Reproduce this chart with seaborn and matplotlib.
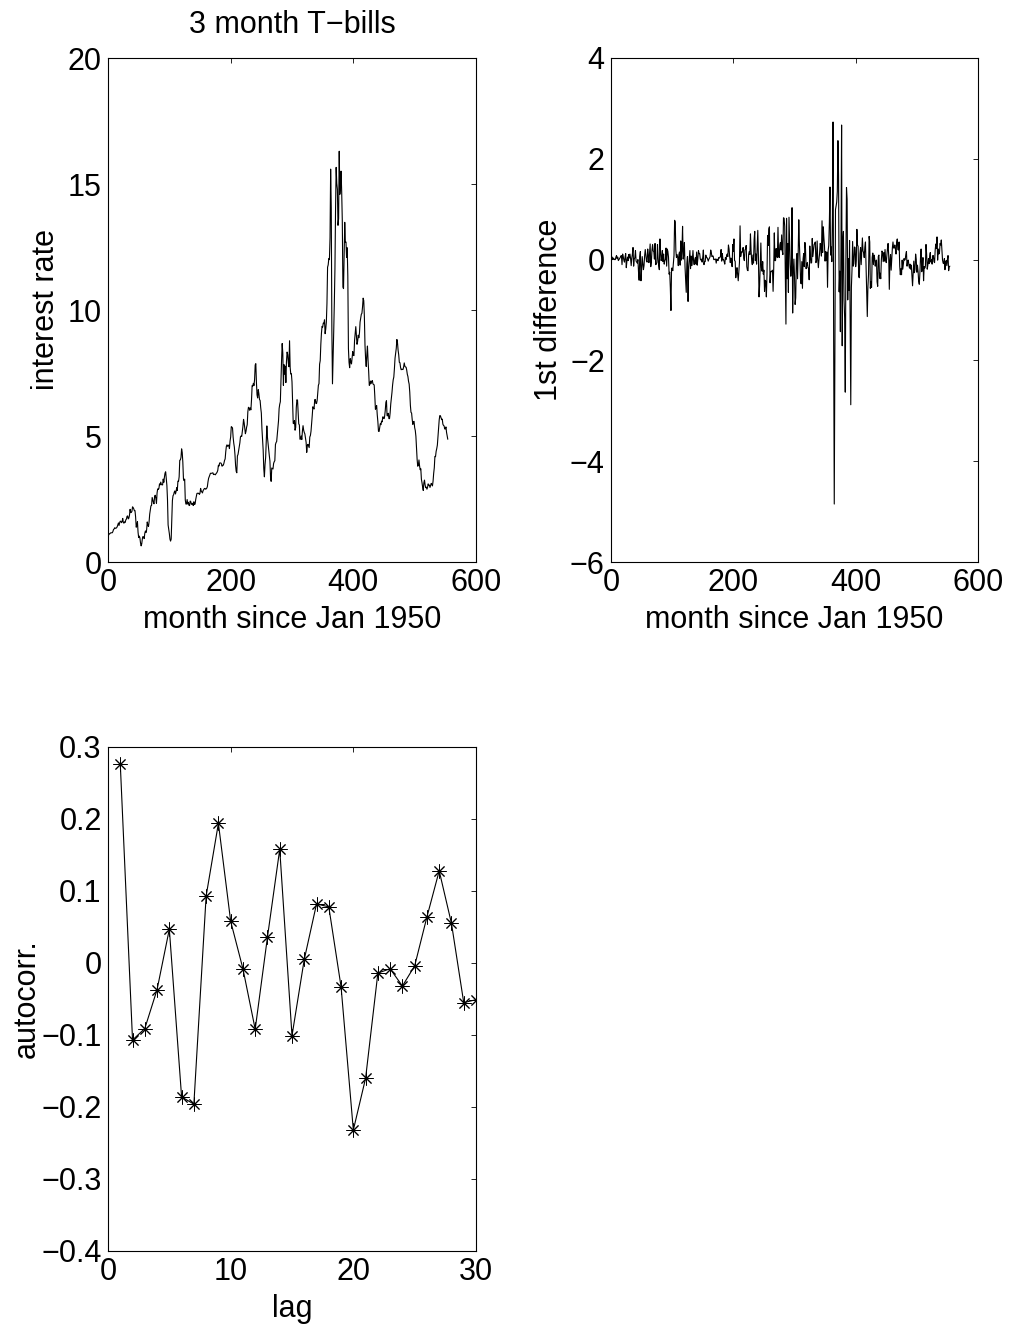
import numpy as np
import pandas as pd
import matplotlib
matplotlib.use("Agg")
import matplotlib.pyplot as plt
import seaborn as sns

# Monthly 3-month T-bill rate (%), Jan 1950 onwards, one row per year
tbill_rate = [
    1.07, 1.12, 1.12, 1.15, 1.16, 1.16, 1.16, 1.21, 1.29, 1.31, 1.36, 1.34,   # 1950
    1.34, 1.36, 1.40, 1.47, 1.55, 1.45, 1.56, 1.62, 1.61, 1.56, 1.61, 1.73,   # 1951
    1.57, 1.54, 1.59, 1.57, 1.67, 1.70, 1.81, 1.83, 1.71, 1.74, 1.85, 2.09,   # 1952
    1.96, 1.97, 2.01, 2.19, 2.16, 2.11, 2.04, 2.04, 1.79, 1.38, 1.44, 1.60,   # 1953
    1.18, 0.97, 1.03, 0.96, 0.76, 0.64, 0.72, 0.92, 1.01, 0.98, 0.93, 1.14,   # 1954
    1.23, 1.17, 1.28, 1.59, 1.45, 1.41, 1.60, 1.90, 2.07, 2.23, 2.24, 2.56,   # 1955
    2.46, 2.37, 2.31, 2.61, 2.65, 2.53, 2.33, 2.74, 2.90, 2.88, 2.92, 3.10,   # 1956
    3.06, 3.17, 3.08, 3.06, 3.06, 3.29, 3.16, 3.37, 3.53, 3.58, 3.29, 3.04,   # 1957
    2.48, 1.47, 1.30, 1.13, 0.91, 0.83, 0.91, 1.69, 2.44, 2.63, 2.67, 2.77,   # 1958
    2.82, 2.70, 2.80, 2.95, 2.84, 3.21, 3.20, 3.38, 4.04, 4.05, 4.15, 4.49,   # 1959
    4.35, 3.96, 3.31, 3.23, 3.29, 2.46, 2.30, 2.30, 2.48, 2.30, 2.37, 2.25,   # 1960
    2.24, 2.42, 2.39, 2.29, 2.29, 2.33, 2.24, 2.39, 2.28, 2.30, 2.48, 2.60,   # 1961
    2.72, 2.73, 2.72, 2.73, 2.68, 2.73, 2.92, 2.82, 2.78, 2.74, 2.83, 2.87,   # 1962
    2.91, 2.92, 2.89, 2.90, 2.93, 2.99, 3.18, 3.32, 3.38, 3.45, 3.52, 3.52,   # 1963
    3.52, 3.53, 3.54, 3.47, 3.48, 3.48, 3.46, 3.50, 3.53, 3.57, 3.64, 3.84,   # 1964
    3.81, 3.93, 3.93, 3.93, 3.89, 3.80, 3.84, 3.84, 3.92, 4.03, 4.09, 4.38,   # 1965
    4.59, 4.65, 4.59, 4.62, 4.64, 4.50, 4.80, 4.96, 5.37, 5.35, 5.32, 4.96,   # 1966
    4.72, 4.56, 4.26, 3.84, 3.60, 3.54, 4.21, 4.27, 4.42, 4.56, 4.73, 4.97,   # 1967
    5.00, 4.98, 5.17, 5.38, 5.66, 5.52, 5.31, 5.09, 5.19, 5.35, 5.45, 5.96,   # 1968
    6.14, 6.12, 6.02, 6.11, 6.04, 6.44, 7.00, 6.98, 7.09, 7.00, 7.24, 7.82,   # 1969
    7.87, 7.13, 6.63, 6.51, 6.84, 6.68, 6.45, 6.41, 6.12, 5.91, 5.28, 4.87,   # 1970
    4.44, 3.70, 3.38, 3.86, 4.14, 4.75, 5.40, 4.94, 4.69, 4.46, 4.22, 4.01,   # 1971
    3.38, 3.20, 3.73, 3.71, 3.69, 3.91, 3.98, 4.02, 4.66, 4.74, 4.78, 5.07,   # 1972
    5.41, 5.60, 6.09, 6.26, 6.36, 7.19, 8.01, 8.67, 8.29, 7.01, 7.83, 7.45,   # 1973
    7.77, 7.12, 7.96, 8.33, 8.23, 7.90, 7.75, 8.78, 7.72, 7.46, 7.47, 7.15,   # 1974
    6.26, 5.50, 5.49, 5.61, 5.23, 5.34, 6.13, 6.44, 6.42, 5.96, 5.48, 5.44,   # 1975
    4.87, 4.88, 5.00, 4.86, 5.20, 5.41, 5.23, 5.14, 5.08, 4.92, 4.75, 4.35,   # 1976
    4.62, 4.67, 4.60, 4.54, 4.96, 5.02, 5.19, 5.49, 5.81, 6.16, 6.10, 6.07,   # 1977
    6.44, 6.45, 6.29, 6.29, 6.41, 6.73, 7.01, 7.08, 7.85, 7.99, 8.64, 9.08,   # 1978
    9.35, 9.32, 9.48, 9.46, 9.61, 9.06, 9.24, 9.52, 10.26, 11.70, 11.79, 12.04,  # 1979
    12.00, 12.86, 15.59, 14.05, 9.20, 7.07, 8.06, 9.13, 10.27, 11.62, 13.98, 15.66,  # 1980
    15.02, 14.79, 13.36, 13.63, 16.30, 14.59, 14.95, 15.51, 14.70, 13.54, 10.91, 10.85,  # 1981
    12.28, 13.48, 12.68, 12.70, 12.09, 12.47, 11.35, 8.47, 7.92, 7.71, 8.07, 7.94,  # 1982
    7.86, 8.11, 8.35, 8.21, 8.19, 8.79, 9.08, 9.34, 9.00, 8.64, 8.76, 9.00,   # 1983
    8.90, 9.09, 9.52, 9.69, 9.83, 9.87, 10.12, 10.47, 10.37, 9.74, 8.61, 8.06,  # 1984
    7.76, 8.22, 8.57, 8.00, 7.56, 7.01, 7.05, 7.18, 7.08, 7.17, 7.20, 7.07,   # 1985
    7.04, 7.03, 6.59, 6.06, 6.12, 6.21, 5.84, 5.57, 5.19, 5.18, 5.35, 5.49,   # 1986
    5.45, 5.59, 5.56, 5.76, 5.75, 5.69, 5.78, 6.00, 6.32, 6.40, 5.81, 5.80,   # 1987
    5.90, 5.69, 5.69, 5.92, 6.27, 6.50, 6.73, 7.02, 7.23, 7.34, 7.68, 8.09,   # 1988
    8.29, 8.48, 8.83, 8.70, 8.40, 8.22, 7.92, 7.91, 7.72, 7.63, 7.65, 7.64,   # 1989
    7.64, 7.74, 7.90, 7.77, 7.74, 7.73, 7.62, 7.45, 7.36, 7.17, 7.06, 6.74,   # 1990
    6.22, 5.94, 5.91, 5.65, 5.46, 5.57, 5.58, 5.33, 5.22, 4.99, 4.56, 4.07,   # 1991
    3.80, 3.84, 4.05, 3.81, 3.66, 3.70, 3.28, 3.14, 2.97, 2.84, 3.14, 3.25,   # 1992
    3.06, 2.95, 2.97, 2.89, 2.96, 3.10, 3.05, 3.05, 2.96, 3.04, 3.12, 3.08,   # 1993
    3.02, 3.21, 3.52, 3.74, 4.19, 4.18, 4.39, 4.50, 4.64, 4.96, 5.25, 5.64,   # 1994
    5.81, 5.80, 5.73, 5.65, 5.67, 5.47, 5.42, 5.40, 5.28, 5.28, 5.36, 5.14,   # 1995
    5.00, 4.87,                                                               # 1996
]

# Sample autocorrelation of the first differences, lags 1..30
acf_lags = list(range(1, 31))
acf_values = [
    0.277, -0.107, -0.091, -0.037, 0.047, -0.186, -0.196, 0.093, 0.194, 0.058,
    -0.008, -0.092, 0.036, 0.158, -0.101, 0.005, 0.082, 0.078, -0.033, -0.232,
    -0.160, -0.014, -0.008, -0.032, -0.004, 0.064, 0.128, 0.055, -0.055, -0.051,
]

# Axis ticks and labels
rate_xticks = [0, 200, 400, 600]
rate_yticks = [0, 5, 10, 15, 20]
diff_yticks = [-6, -4, -2, 0, 2, 4]
acf_xticks = [0, 10, 20, 30]
acf_yticks = [-0.4, -0.3, -0.2, -0.1, 0.0, 0.1, 0.2, 0.3]
acf_yticklabels = ["\u22120.4", "\u22120.3", "\u22120.2", "\u22120.1", "0", "0.1", "0.2", "0.3"]

rate = np.asarray(tbill_rate)
months = np.arange(1, len(rate) + 1)
rate_df = pd.DataFrame({"month": months, "rate": rate})
diff_df = pd.DataFrame({"month": months[1:], "diff": np.diff(rate)})
acf_df = pd.DataFrame({"lag": acf_lags, "acf": acf_values})

sns.set_theme(style="white", rc={
    "axes.edgecolor": "black",
    "axes.linewidth": 0.8,
    "xtick.direction": "in",
    "ytick.direction": "in",
    "axes.unicode_minus": True,
})
plt.rcParams["font.family"] = ["Liberation Sans", "DejaVu Sans"]

FS = 22
W, H = 1010, 1330
fig = plt.figure(figsize=(W / 100, H / 100), dpi=100)


def frac_axes(left, top, right, bottom):
    return fig.add_axes([left / W, 1 - bottom / H, (right - left) / W, (bottom - top) / H])


ax1 = frac_axes(108, 58, 476, 562)
ax2 = frac_axes(611, 58, 978, 562)
ax3 = frac_axes(108, 747, 476, 1251)

line_kw = dict(color="black", linewidth=0.8, errorbar=None, legend=False)
sns.lineplot(data=rate_df, x="month", y="rate", ax=ax1, **line_kw)
sns.lineplot(data=diff_df, x="month", y="diff", ax=ax2, **line_kw)
sns.lineplot(data=acf_df, x="lag", y="acf", ax=ax3, marker=(8, 2, 0), markersize=10,
             markeredgecolor="black", markeredgewidth=0.7, markerfacecolor="none", **line_kw)


def style_axes(ax, xlim, ylim, xticks, yticks, xlabel, ylabel, ylabel_x, yticklabels=None):
    ax.set_xlim(*xlim)
    ax.set_ylim(*ylim)
    ax.set_xticks(xticks)
    ax.set_xticklabels([str(t) for t in xticks])
    ax.set_yticks(yticks)
    if yticklabels is None:
        yticklabels = [str(t).replace("-", "\u2212") for t in yticks]
    ax.set_yticklabels(yticklabels)
    ax.tick_params(which="both", direction="in", top=True, right=True, length=3.5,
                   width=0.6, colors="black", labelsize=FS)
    ax.tick_params(axis="x", pad=4)
    ax.tick_params(axis="y", pad=4.5)
    ax.set_xlabel(xlabel, fontsize=FS, color="black")
    ax.set_ylabel(ylabel, fontsize=FS, color="black")
    ax.xaxis.set_label_coords(0.5, -0.115)
    ax.xaxis.label.set_va("center")
    ax.yaxis.set_label_coords(ylabel_x, 0.5)
    ax.yaxis.label.set_va("center")
    for s in ax.spines.values():
        s.set_visible(True)
        s.set_color("black")
        s.set_linewidth(0.8)
    ax.grid(False)


style_axes(ax1, (0, 600), (0, 20), rate_xticks, rate_yticks,
           "month since Jan 1950", "interest rate", -0.168)
style_axes(ax2, (0, 600), (-6, 4), rate_xticks, diff_yticks,
           "month since Jan 1950", "1st difference", -0.168)
style_axes(ax3, (0, 30), (-0.4, 0.3), acf_xticks, acf_yticks,
           "lag", "autocorr.", -0.22, yticklabels=acf_yticklabels)

ax1.text(0.5, 1 + 33 / 504, "3 month T\u2212bills", transform=ax1.transAxes,
         ha="center", va="center", fontsize=FS, color="black")

fig.savefig("out.png", dpi=100, facecolor="white")
